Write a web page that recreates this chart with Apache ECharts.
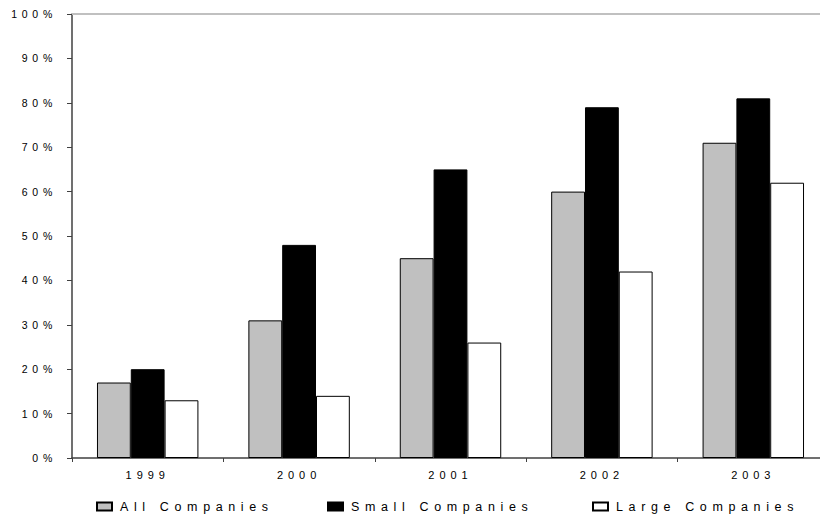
<!DOCTYPE html>
<html>
<head>
<meta charset="utf-8">
<script src="https://cdn.jsdelivr.net/npm/echarts@6/dist/echarts.min.js"></script>
<style>
  html, body { margin: 0; padding: 0; background: #fff; }
  #chart { width: 820px; height: 517px; }
  #chart text { letter-spacing: 0.45em; }
</style>
</head>
<body>
<div id="chart"></div>
<script>
const categories = ['1999', '2000', '2001', '2002', '2003'];
const allCompanies = [17, 31, 45, 60, 71];
const smallCompanies = [20, 48, 65, 79, 81];
const largeCompanies = [13, 14, 26, 42, 62];
const seriesNames = ['All Companies', 'Small Companies', 'Large Companies'];

const chart = echarts.init(document.getElementById('chart'), null, { renderer: 'svg' });
const font = 'Liberation Sans, Arial, sans-serif';
const axisColor = '#404040';

function barSeries(name, data, color) {
  return {
    name: name,
    type: 'bar',
    data: data,
    barGap: '0%',
    barCategoryGap: '33%',
    itemStyle: { color: color, borderColor: '#000', borderWidth: 1 },
    emphasis: { disabled: true }
  };
}

function legend(name, left) {
  return {
    data: [name],
    left: left,
    top: 495,
    itemWidth: 15,
    itemHeight: 8,
    icon: 'rect',
    selectedMode: false,
    textStyle: { fontFamily: font, fontSize: 12.5, color: '#000', padding: [0, 0, 0, 3] }
  };
}

chart.setOption({
  animation: false,
  backgroundColor: '#fff',
  grid: { left: 72, right: -9, top: 14, bottom: 59, outerBoundsMode: 'none' },
  legend: [
    legend(seriesNames[0], 91),
    legend(seriesNames[1], 322),
    legend(seriesNames[2], 587)
  ],
  xAxis: [
    {
      type: 'category',
      data: categories,
      position: 'bottom',
      axisLine: { lineStyle: { color: axisColor, width: 1.5 } },
      axisTick: { show: true, length: 4, lineStyle: { color: axisColor } },
      axisLabel: { fontFamily: font, fontSize: 11, color: '#000', margin: 11 }
    },
    {
      type: 'category',
      data: categories,
      position: 'top',
      axisLine: { lineStyle: { color: '#c0c0c0', width: 2 } },
      axisTick: { show: false },
      axisLabel: { show: false }
    }
  ],
  yAxis: {
    type: 'value',
    min: 0,
    max: 100,
    interval: 10,
    axisLine: { show: true, lineStyle: { color: axisColor, width: 1.5 } },
    axisTick: { show: true, length: 5, lineStyle: { color: axisColor } },
    splitLine: { show: false },
    axisLabel: { fontFamily: font, fontSize: 10.5, color: '#000', margin: 15, formatter: '{value}%' }
  },
  series: [
    barSeries(seriesNames[0], allCompanies, '#c0c0c0'),
    barSeries(seriesNames[1], smallCompanies, '#000000'),
    barSeries(seriesNames[2], largeCompanies, '#ffffff')
  ]
});
</script>
</body>
</html>
